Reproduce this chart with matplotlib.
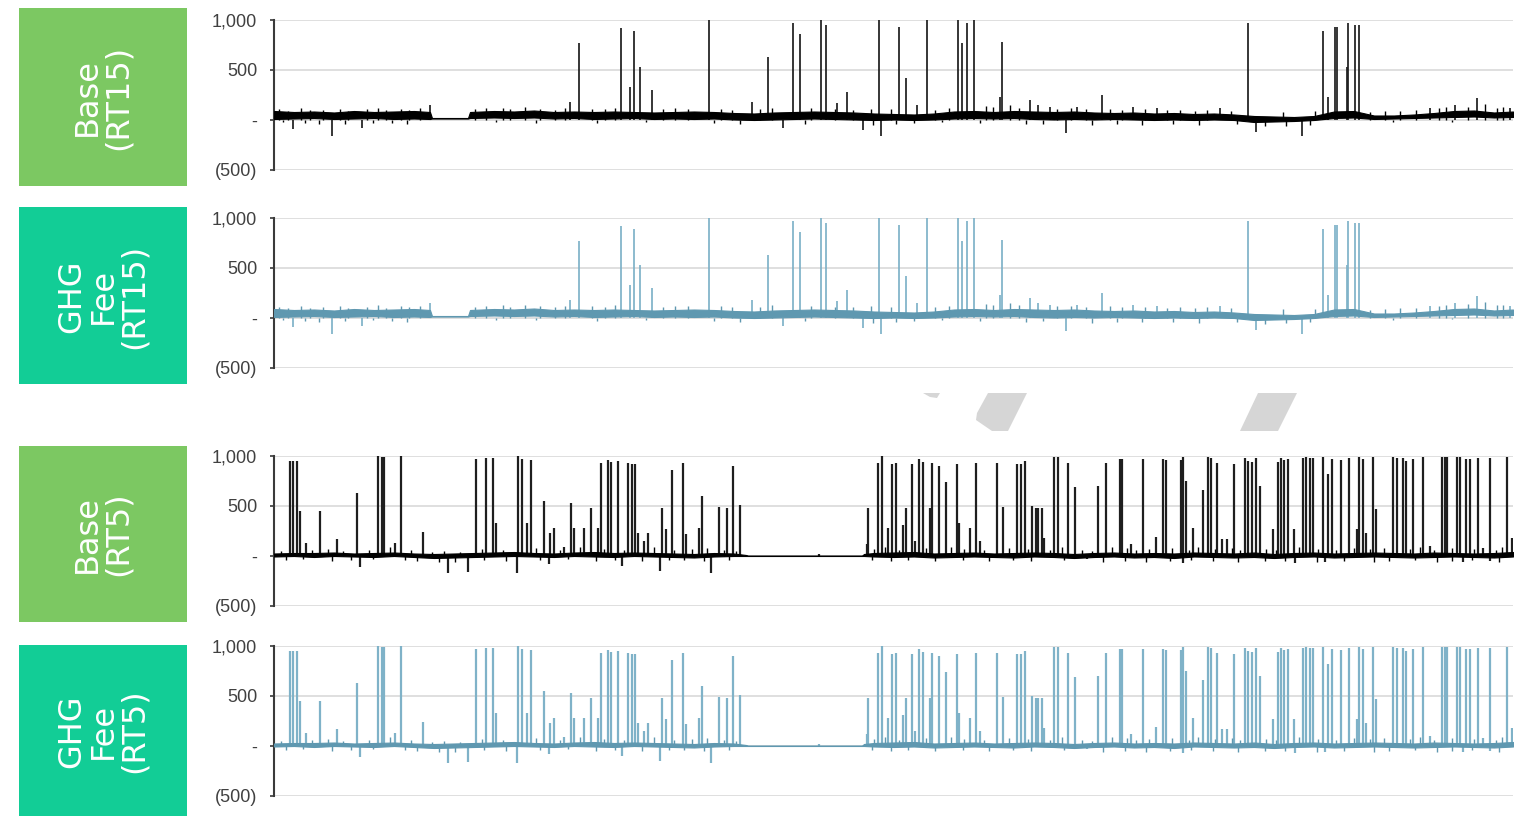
import matplotlib
matplotlib.use("Agg")
import matplotlib.pyplot as plt
from matplotlib.patches import Rectangle, Polygon

plt.rcParams['font.family'] = ['Liberation Sans', 'DejaVu Sans']

# ---------------- data (interval index on x, MW-like values on y) ----------------
y_ticks = [-500, 0, 500, 1000]
y_tick_labels = ["(500)", "-", "500", "1,000"]

panel_labels = ["Base\n(RT15)", "GHG\nFee\n(RT15)", "Base\n(RT5)", "GHG\nFee\n(RT5)"]

# RT15 baseline band (position, low, high)
rt15_env_x = [0, 20, 40, 60, 80, 100, 120, 140, 156, 158, 194, 196, 220, 240, 260, 280, 300,
              320, 340, 360, 380, 400, 420, 440, 460, 480, 500, 520, 540, 560, 580, 600,
              620, 640, 660, 680, 700, 720, 740, 760, 780, 800, 820, 840, 860, 880, 900,
              920, 940, 960, 980, 1000, 1020, 1040, 1060, 1080, 1100, 1120, 1140, 1160,
              1180, 1200, 1220, 1239]
rt15_env_lo = [10, 15, 20, 10, 15, 20, 10, 15, 10, 15, 15, 20, 25, 20, 25, 15, 20,
               10, 15, 20, 10, 15, 10, 15, 5, 0, 5, 10, 15, 10, 5, 0,
               5, 0, 5, 15, 20, 15, 20, 10, 5, 10, 5, 10, 5, 0, 5,
               0, 5, 0, -20, -15, -10, 0, 20, 25, 10, 15, 20, 25,
               30, 35, 25, 30]
rt15_env_hi = [90, 80, 85, 75, 90, 80, 85, 90, 80, 20, 20, 80, 90, 85, 95, 80, 85,
               80, 85, 80, 75, 80, 85, 80, 70, 65, 75, 80, 85, 80, 75, 65,
               60, 55, 65, 85, 90, 80, 90, 85, 80, 85, 75, 70, 75, 65, 70,
               60, 65, 55, 40, 35, 30, 40, 85, 90, 45, 45, 55, 70,
               90, 95, 75, 85]

# RT15 spikes (position, value)
rt15_spike_x = [305, 347, 356, 360, 366, 378, 435, 478, 494, 519, 526, 547, 552, 573,
                605, 625, 632, 653, 684, 688, 693, 700, 728, 828, 974, 1049, 1061, 1063,
                1073, 1074, 1081, 1085, 1203,
                156, 296, 563, 643, 726, 756, 764, 776, 803, 859, 883, 946, 1054, 1156,
                1181, 1236,
                19, 58, 88, 509, 589, 607, 792, 982, 1028]
rt15_spike_y = [770, 920, 330, 890, 530, 300, 1000, 180, 630, 970, 860, 1000, 950, 280,
                1000, 930, 420, 1000, 1000, 770, 970, 1000, 780, 250, 970, 890, 930, 930,
                530, 970, 950, 950, 220,
                150, 180, 170, 150, 230, 200, 150, 130, 130, 130, 120, 120, 230, 120,
                150, 120,
                -90, -160, -80, -80, -100, -160, -130, -120, -160]

# RT15 small excursions around the baseline
rt15_small_x = [5, 14, 27, 36, 49, 66, 74, 93, 104, 112, 127, 135, 146, 201, 212, 229, 236,
                251, 266, 281, 291, 318, 331, 341, 389, 401, 414, 447, 458, 486, 498, 537,
                561, 579, 597, 617, 661, 675, 712, 719, 736, 745, 783, 797, 812, 836, 848,
                871, 893, 906, 921, 933, 957, 1009, 1041, 1096, 1111, 1126, 1142, 1165,
                1172, 1194, 1211, 1223, 1229,
                9, 31, 45, 71, 99, 118, 133, 222, 262, 323, 372, 440, 466, 531, 599, 622,
                640, 668, 706, 752, 769, 818, 843, 868, 899, 925, 963, 991, 1012, 1036,
                1119, 1178]
rt15_small_y = [110, 95, 120, 100, 105, 115, 95, 110, 125, 100, 115, 105, 120, 110, 120, 125, 110,
                130, 115, 105, 120, 115, 110, 125, 110, 120, 115, 115, 105, 110, 125, 120,
                110, 105, 115, 110, 105, 120, 140, 130, 150, 125, 115, 120, 110, 115, 105,
                110, 100, 105, 95, 105, 95, 85, 90, 80, 90, 95, 100, 120,
                130, 135, 160, 125, 130,
                -20, -30, -40, -35, -25, -30, -40, -20, -25, -30, -20, -30, -40, -35, -50, -40,
                -30, -20, -30, -40, -35, -50, -40, -45, -40, -50, -40, -60, -55, -45,
                -20, -15]

# RT5 baseline band (position, low, high)
rt5_env_x = [0, 20, 40, 60, 80, 100, 120, 140, 160, 180, 200, 220, 240, 260, 280, 300,
             320, 340, 360, 380, 400, 420, 440, 460, 472, 474, 588, 590, 600, 620, 640,
             660, 680, 700, 720, 740, 760, 780, 800, 820, 840, 860, 880, 900, 920, 940,
             960, 980, 1000, 1020, 1040, 1060, 1080, 1100, 1120, 1140, 1160, 1180, 1200,
             1220, 1239]
rt5_env_lo = [-5, 0, -10, 0, -5, -10, 0, -10, -20, -15, -10, -5, 0, -5, -10, 0,
              -5, -10, 0, -5, -10, -15, -5, 0, 0, 0, 0, 0, -5, -10, -5,
              -15, -10, -5, -10, -15, -5, -10, -20, -10, -5, -15, -10, -20, -5, -10,
              -15, -10, -20, -10, -5, -15, -10, -5, -10, -15, -10, -5, -10,
              -15, -5]
rt5_env_hi = [25, 30, 30, 35, 25, 30, 35, 25, 20, 25, 30, 35, 40, 30, 25, 35,
              40, 30, 35, 30, 25, 20, 30, 25, 10, 4, 4, 20, 30, 35, 40,
              25, 30, 35, 25, 30, 35, 30, 20, 30, 35, 25, 30, 25, 35, 30,
              25, 35, 20, 30, 35, 25, 30, 35, 30, 25, 35, 30, 25,
              30, 40]

# RT5 spikes (position, value)
rt5_spike_x = [16, 19, 23, 26, 32, 46, 63, 83, 104, 108, 110, 121, 127, 149, 202, 212,
               219, 222, 244, 248, 253, 257, 270, 276, 280, 290, 297, 300, 310, 317, 324,
               327, 334, 337, 344, 354, 358, 361, 364, 370, 374, 388, 392, 398, 409, 412,
               425, 428, 445, 453, 459, 466, 545,
               593, 594, 604, 608, 614, 618, 622, 629, 632, 638, 641, 645, 649, 656, 658,
               665, 672, 683, 685, 696, 702, 706, 723, 729, 743, 747, 751, 758, 762, 764,
               768, 770, 780, 784, 794, 801, 824, 832, 846, 848, 857, 869, 882, 889, 892,
               907, 909, 912, 919, 929, 934, 937, 943, 948, 953, 960, 971, 974, 978, 982,
               986, 999, 1004, 1007, 1010, 1014, 1020, 1029, 1032, 1036, 1039, 1049, 1054,
               1058, 1067, 1075, 1083, 1085, 1089, 1092, 1099, 1102, 1119, 1123, 1129,
               1132, 1139, 1149, 1156, 1168, 1171, 1173, 1183, 1186, 1192, 1196, 1204,
               1209, 1216, 1233, 1238,
               86, 174, 194, 243, 275, 348, 386, 437, 813, 909, 1021, 1051, 1189, 1216]
rt5_spike_y = [950, 950, 950, 450, 130, 450, 170, 630, 1000, 990, 990, 130, 1000, 240, 970, 980,
               980, 330, 1000, 970, 330, 960, 550, 230, 280, 90, 530, 280, 280, 480, 280,
               930, 960, 940, 950, 930, 920, 920, 230, 150, 230, 480, 270, 860, 930, 220,
               280, 600, 490, 480, 900, 510, 20,
               120, 480, 930, 1000, 280, 920, 930, 310, 480, 920, 150, 970, 940, 480, 930,
               900, 740, 920, 330, 280, 930, 150, 930, 490, 920, 920, 950, 500, 480, 480,
               480, 180, 990, 990, 930, 690, 700, 930, 970, 970, 120, 970, 190, 970, 960,
               960, 990, 750, 280, 660, 990, 980, 930, 170, 170, 920, 980, 950, 940, 980,
               700, 270, 940, 980, 960, 970, 270, 980, 990, 980, 980, 990, 820,
               970, 960, 980, 270, 990, 970, 230, 990, 470, 990, 980, 980,
               950, 970, 990, 100, 990, 990, 990, 990, 990, 970, 970, 980,
               80, 980, 990, 180,
               -110, -170, -160, -170, -80, -100, -150, -170, -30, -70, -70, -60, -60, -50]

# RT5 small excursions around the baseline
rt5_small_x = [7, 38, 54, 69, 95, 116, 137, 158, 170, 186, 208, 229, 262, 286, 306, 330, 350,
               380, 400, 418, 433, 450, 462, 600, 611, 625, 652, 677, 690, 710, 735, 754,
               776, 788, 808, 818, 838, 853, 862, 875, 898, 915, 924, 941, 958, 966, 992,
               1002, 1025, 1044, 1062, 1080, 1096, 1110, 1136, 1146, 1160, 1178, 1200,
               1222, 1228,
               12, 29, 58, 77, 99, 131, 143, 165, 181, 210, 232, 266, 294, 322, 341, 368,
               395, 410, 430, 455, 598, 617, 634, 661, 689, 715, 739, 757, 790, 829, 851,
               872, 896, 917, 939, 964, 991, 1011, 1043, 1070, 1100, 1115, 1141, 1163,
               1178, 1198, 1225]
rt5_small_y = [50, 60, 70, 50, 60, 90, 60, 40, 50, 40, 70, 60, 80, 60, 90, 70, 60,
               90, 60, 70, 80, 60, 50, 70, 90, 60, 80, 90, 70, 60, 80, 70,
               60, 90, 60, 50, 90, 80, 60, 70, 80, 60, 90, 70, 80, 60, 70,
               60, 90, 70, 60, 80, 70, 80, 70, 90, 60, 80, 70,
               60, 90,
               -40, -30, -50, -40, -30, -40, -50, -60, -60, -40, -50, -40, -30, -50, -40, -50,
               -40, -40, -50, -40, -40, -50, -40, -50, -40, -50, -40, -50, -40, -60, -50,
               -60, -50, -40, -50, -60, -50, -50, -60, -50, -60, -50, -40, -60,
               -50, -40, -60]

# GHG fee case reads the same as base at this resolution
ghg_rt15_spike_x = list(rt15_spike_x)
ghg_rt15_spike_y = list(rt15_spike_y)
ghg_rt5_spike_x = list(rt5_spike_x)
ghg_rt5_spike_y = list(rt5_spike_y)

# ---------------- figure ----------------
W, H = 1516, 816
fig = plt.figure(figsize=(W / 100, H / 100), dpi=100)

GREEN = "#7cc862"
TEAL = "#12cd96"
BLACK_BAND = "#000000"
BLACK_SPK = "#1e1e1e"
BLUE_BAND = "#5f98b0"
BLUE_SPK = "#7fb2c8"

panels = [
    dict(top=20, box=(8, 186), color=GREEN, env=(rt15_env_x, rt15_env_lo, rt15_env_hi),
         spk=(rt15_spike_x, rt15_spike_y), small=(rt15_small_x, rt15_small_y),
         band=BLACK_BAND, line=BLACK_SPK, lw=1.25, text_y=97),
    dict(top=218, box=(207, 384), color=TEAL, env=(rt15_env_x, rt15_env_lo, rt15_env_hi),
         spk=(ghg_rt15_spike_x, ghg_rt15_spike_y), small=(rt15_small_x, rt15_small_y),
         band=BLUE_BAND, line=BLUE_SPK, lw=1.25, text_y=296),
    dict(top=456, box=(446, 622), color=GREEN, env=(rt5_env_x, rt5_env_lo, rt5_env_hi),
         spk=(rt5_spike_x, rt5_spike_y), small=(rt5_small_x, rt5_small_y),
         band=BLACK_BAND, line=BLACK_SPK, lw=1.6, text_y=534),
    dict(top=646, box=(645, 830), color=TEAL, env=(rt5_env_x, rt5_env_lo, rt5_env_hi),
         spk=(ghg_rt5_spike_x, ghg_rt5_spike_y), small=(rt5_small_x, rt5_small_y),
         band=BLUE_BAND, line=BLUE_SPK, lw=1.6, text_y=731),
]

ax_left, ax_right = 274, 1513
ax_h = 150

for p, lab in zip(panels, panel_labels):
    ax = fig.add_axes([ax_left / W, 1 - (p["top"] + ax_h) / H, (ax_right - ax_left) / W, ax_h / H])
    ex, elo, ehi = p["env"]
    ax.fill_between(ex, elo, ehi, color=p["band"], linewidth=0.8, zorder=3)
    nx, ny = p["small"]
    ax.vlines(nx, 0, ny, color=p["band"], linewidth=1.0, zorder=3)
    sx, sy = p["spk"]
    ax.vlines(sx, 0, sy, color=p["line"], linewidth=p["lw"], zorder=2)
    ax.set_xlim(0, 1239)
    ax.set_ylim(-500, 1000)
    ax.set_yticks(y_ticks)
    ax.set_yticklabels(y_tick_labels)
    ax.set_xticks([])
    ax.grid(axis="y", color="#dcdcdc", linewidth=1.3, zorder=0)
    ax.set_axisbelow(True)
    for s in ["top", "right", "bottom"]:
        ax.spines[s].set_visible(False)
    ax.spines["left"].set_color("#3a3a3a")
    ax.spines["left"].set_linewidth(1.5)
    ax.tick_params(axis="y", length=3, width=1.2, color="#3a3a3a", labelsize=13,
                   labelcolor="#404040", pad=9)

    # colored label box
    y0, y1 = p["box"]
    fig.add_artist(Rectangle((19 / W, 1 - y1 / H), (187 - 19) / W, (y1 - y0) / H,
                             transform=fig.transFigure, facecolor=p["color"],
                             edgecolor="none", zorder=1))
    fig.text(103 / W, 1 - p["text_y"] / H, lab, rotation=90, ha="center", va="center",
             multialignment="center", color="white", fontsize=23, linespacing=1.0,
             family=["DejaVu Sans"])

# faint grey decorative shapes between the two groups
shapes = [
    [(923, 393), (940, 393), (937, 398), (930, 397)],
    [(988, 393), (1027, 393), (1008, 431), (992, 431), (976, 420), (977, 413)],
    [(1258, 393), (1297, 393), (1278, 431), (1240, 431)],
]
for pts in shapes:
    fig.add_artist(Polygon([(x / W, 1 - y / H) for x, y in pts], closed=True,
                           transform=fig.transFigure, facecolor="#d6d6d6", edgecolor="none"))

fig.savefig("out.png", dpi=100)
